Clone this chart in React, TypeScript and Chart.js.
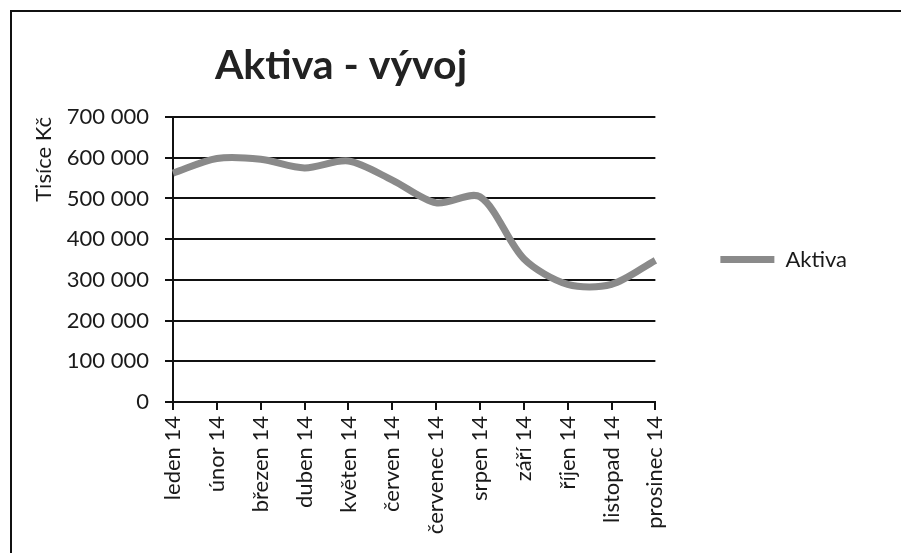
import { useEffect, useRef } from "react";
import { Chart, registerables } from "chart.js";

Chart.register(...registerables);

const categories = [
  "leden 14",
  "únor 14",
  "březen 14",
  "duben 14",
  "květen 14",
  "červen 14",
  "červenec 14",
  "srpen 14",
  "září 14",
  "říjen 14",
  "listopad 14",
  "prosinec 14",
];
const aktivaValues = [562000, 598000, 596000, 575000, 592000, 545000, 489000, 504000, 352000, 289000, 289000, 348000];
const seriesName = "Aktiva";
const chartTitle = "Aktiva - vývoj";
const yAxisTitle = "Tisíce Kč";
const yMin = 0;
const yMax = 700000;
const yStep = 100000;

const FONT = "Lato, 'Open Sans', sans-serif";
const TEXT = "#1a1a1a";

function fmt(v: number) {
  return String(Math.round(v)).replace(/\B(?=(\d{3})+(?!\d))/g, " ");
}

export default function App() {
  const ref = useRef<HTMLCanvasElement>(null);

  useEffect(() => {
    document.body.style.margin = "0";
    const canvas = ref.current;
    if (!canvas) return;

    const framePlugin = {
      id: "frame",
      beforeDraw(chart: any) {
        const ctx = chart.ctx;
        ctx.save();
        ctx.fillStyle = "#ffffff";
        ctx.fillRect(0, 0, chart.width, chart.height);
        ctx.strokeStyle = "#111111";
        ctx.lineWidth = 2;
        ctx.beginPath();
        ctx.moveTo(11, chart.height + 5);
        ctx.lineTo(11, 11);
        ctx.lineTo(chart.width + 5, 11);
        ctx.stroke();
        ctx.restore();
      },
    };

    const titlePlugin = {
      id: "titleText",
      afterDraw(chart: any) {
        const ctx = chart.ctx;
        const area = chart.chartArea;
        ctx.save();
        ctx.font = `bold 41px ${FONT}`;
        ctx.fillStyle = "#222222";
        ctx.textAlign = "center";
        ctx.textBaseline = "alphabetic";
        ctx.fillText(chartTitle, area.left + 168, area.top - 38);
        ctx.restore();
      },
    };

    const chart = new Chart(canvas, {
      type: "line",
      data: {
        labels: categories,
        datasets: [
          {
            label: seriesName,
            data: aktivaValues,
            borderColor: "#8a8a8a",
            backgroundColor: "#8a8a8a",
            borderWidth: 7,
            pointRadius: 0,
            pointStyle: "line",
            tension: 0.3,
            fill: false,
          },
        ],
      },
      options: {
        responsive: false,
        animation: false,
        devicePixelRatio: 1,
        layout: { padding: { left: 10, top: 117, right: 44, bottom: 0 } },
        plugins: {
          title: { display: false },
          tooltip: { enabled: false },
          legend: {
            position: "right",
            fullSize: false,
            labels: {
              usePointStyle: true,
              pointStyle: "line",
              pointStyleWidth: 54,
              padding: 65,
              color: TEXT,
              font: { family: FONT, size: 22 },
            },
          },
        },
        scales: {
          x: {
            offset: false,
            grid: {
              display: true,
              drawOnChartArea: false,
              color: "#111111",
              lineWidth: 2,
              tickLength: 8,
              offset: false,
            },
            border: { color: "#111111", width: 2 },
            ticks: {
              autoSkip: false,
              minRotation: 90,
              maxRotation: 90,
              padding: 6,
              color: TEXT,
              font: { family: FONT, size: 22 },
            },
            afterFit(scale: any) {
              scale.height = 151;
            },
          },
          y: {
            min: yMin,
            max: yMax,
            grid: { color: "#111111", lineWidth: 2, tickLength: 8 },
            border: { color: "#111111", width: 2 },
            ticks: {
              stepSize: yStep,
              padding: 16,
              color: TEXT,
              font: { family: FONT, size: 22 },
              callback: (v: any) => fmt(Number(v)),
            },
            title: {
              display: true,
              text: yAxisTitle,
              align: "end",
              color: TEXT,
              font: { family: FONT, size: 22 },
              padding: { top: 21, bottom: 0 },
            },
            afterFit(scale: any) {
              scale.width = 163;
            },
          },
        },
      },
      plugins: [framePlugin, titlePlugin],
    });

    return () => chart.destroy();
  }, []);

  return (
    <div style={{ position: "absolute", left: 0, top: 0, width: 901, height: 553 }}>
      <canvas ref={ref} width={901} height={553} />
    </div>
  );
}
